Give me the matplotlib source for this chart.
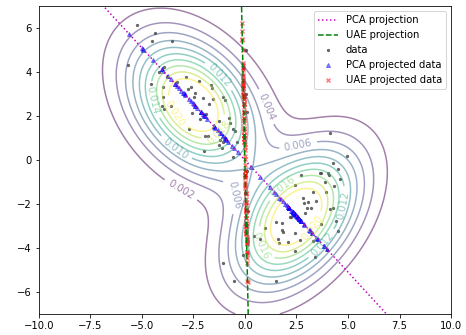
import matplotlib
matplotlib.use("Agg")
import matplotlib.pyplot as plt
import numpy as np

# data points (two clusters)
data_x = [-5.22, -4.34, -4.52, -3.55, -5.68, -4.15, -3.94, -4.57, -3.99, -3.76,
          -3.31, -2.87, -2.24, -1.66, -1.58, -2.78, -2.60, -3.96, -4.02, -3.60,
          -3.91, -1.76, -1.05, -0.95, -2.44, -2.47, -2.02, -1.56, -2.57, -2.18,
          -1.89, -1.24, -0.76, -0.73, -0.57, -0.50, -2.73, -1.94, -1.80, -1.21,
          -1.08, -0.40, -1.27, -1.99, -1.11, -0.57, 0.05, -0.10, 0.05, 0.10, -0.05,
          2.71, 3.65, 4.10, 4.52, 2.42, 3.91, 3.45, 2.84, 2.87, 3.00,
          4.26, 4.42, 4.52, 1.52, 1.81, 2.26, 0.45, 0.71, 1.61, 2.07,
          2.45, 2.65, 3.29, 3.39, 3.97, 1.52, -0.52, 3.31, 3.07, 3.23,
          2.18, 1.78, 2.90, 0.97, 4.96, 4.28, 4.05, 3.71, 4.63, 3.89,
          4.34, 4.12, 3.71, 1.66, 1.85, 2.44, -1.05, 4.13, 0.10, 0.00,
          0.15, 0.05, -0.10]
data_y = [6.12, 5.76, 5.41, 5.39, 4.30, 4.01, 4.21, 3.44, 3.30, 3.77,
          3.56, 3.76, 3.59, 3.41, 3.26, 3.21, 3.30, 2.88, 2.45, 2.45,
          2.33, 2.55, 2.88, 2.73, 3.03, 2.85, 2.82, 2.76, 2.12, 1.86,
          2.09, 1.77, 1.89, 1.67, 1.39, 1.30, 1.39, 1.11, 1.10, 0.91,
          0.80, 0.83, 0.68, 0.41, 0.55, 0.15, 5.00, 4.20, 3.00, 2.20, 1.00,
          -0.70, -0.61, -0.67, -0.42, -1.12, -1.45, -1.85, -1.73, -1.97, -2.18,
          -2.18, -2.76, -3.24, -2.82, -3.18, -2.60, -3.48, -3.58, -3.58, -3.73,
          -3.33, -3.64, -3.70, -4.39, -4.09, -5.52, -5.52, -1.44, -1.89, -2.20,
          -2.58, -2.88, -2.42, -3.10, 0.18, -0.12, -0.61, -0.61, -0.88, -1.00,
          -1.18, -2.24, -2.91, -3.79, -3.26, -4.15, -4.70, 1.21, -0.50, -1.50,
          -2.30, -3.00, -4.30]

# mixture density parameters (estimated from the contours)
means = [[-2.5, 2.5], [2.5, -2.6]]
covs = [[[3.9, -1.4], [-1.4, 3.9]], [[3.9, 1.8], [1.8, 4.2]]]
weights = [0.55, 0.55]
levels = [0.002, 0.004, 0.006, 0.008, 0.010, 0.012, 0.014, 0.016, 0.018, 0.020]

# projection directions
pca_dir = [1.0, -1.02]
uae_dir = [0.023, -1.0]

# where the contour labels sit
label_pos = [(-3.05, -1.27), (1.03, 2.42), (2.57, 0.73), (-3.31, 0.6), (-1.21, 3.86),
             (4.66, -2.03), (-4.44, 2.73), (0.87, -3.85), (-1.37, 1.36), (1.76, -1.12),
             (-3.15, 2.27), (3.13, -3.0), (3.78, -3.85), (-0.26, -1.58)]


def mixture_pdf(X, Y):
    Z = np.zeros_like(X)
    for w, m, c in zip(weights, means, covs):
        c = np.array(c)
        inv = np.linalg.inv(c)
        dx = X - m[0]
        dy = Y - m[1]
        q = inv[0, 0] * dx**2 + 2 * inv[0, 1] * dx * dy + inv[1, 1] * dy**2
        Z += w * np.exp(-0.5 * q) / (2 * np.pi * np.sqrt(np.linalg.det(c)))
    return Z


fig = plt.figure(figsize=(466 / 72, 335 / 72), dpi=72)
ax = fig.add_axes([0.083, 0.063, 0.885, 0.919])

xx, yy = np.meshgrid(np.linspace(-10, 10, 400), np.linspace(-7, 7, 300))
zz = mixture_pdf(xx, yy)
cs = ax.contour(xx, yy, zz, levels=levels, cmap="viridis", alpha=0.5, linewidths=1.5)
ax.clabel(cs, inline=True, fontsize=10, manual=label_pos)

pts = np.column_stack([data_x, data_y])
t = np.linspace(-20, 20, 2)

u = np.array(pca_dir) / np.linalg.norm(pca_dir)
v = np.array(uae_dir) / np.linalg.norm(uae_dir)

ax.plot(t * u[0], t * u[1], "m:", lw=1.5, label="PCA projection")
ax.plot(t * v[0], t * v[1], "g--", lw=1.5, label="UAE projection")

pca_proj = np.outer(pts @ u, u)
uae_proj = np.outer(pts @ v, v)

ax.scatter(pts[:, 0], pts[:, 1], s=5, color="#4d4d4d", alpha=0.8, label="data")
ax.scatter(pca_proj[:, 0], pca_proj[:, 1], s=16, marker="^", color="blue",
           alpha=0.45, label="PCA projected data")
ax.scatter(uae_proj[:, 0], uae_proj[:, 1], s=16, marker="x", color="red",
           alpha=0.5, label="UAE projected data")

ax.set_xlim(-10, 10)
ax.set_ylim(-7, 7)
ax.legend(loc="upper right", fontsize=10)

fig.savefig("out.png", dpi=72)
